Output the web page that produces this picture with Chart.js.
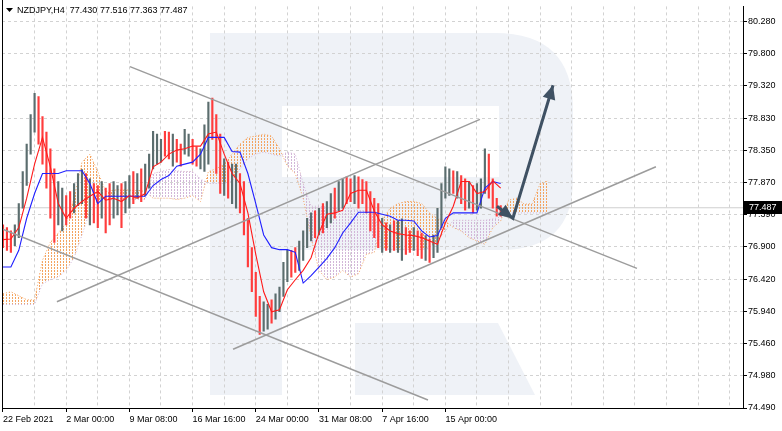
<!DOCTYPE html>
<html>
<head>
<meta charset="utf-8">
<script src="https://cdn.jsdelivr.net/npm/chart.js@4.4.0/dist/chart.umd.min.js"></script>
<style>
  html, body { margin: 0; padding: 0; background: #fff; }
  canvas { display: block; }
</style>
</head>
<body>
<canvas id="chart" width="782" height="431"></canvas>
<script>
const symbolTitle = "NZDJPY,H4  77.430 77.516 77.363 77.487";
const lastPrice = 77.487;

const yTicks = [80.28, 79.8, 79.32, 78.83, 78.35, 77.87, 77.39, 76.9, 76.42, 75.94, 75.46, 74.98, 74.49];
const xLabels = ["22 Feb 2021", "2 Mar 00:00", "9 Mar 08:00", "16 Mar 16:00", "24 Mar 00:00", "31 Mar 08:00", "7 Apr 16:00", "15 Apr 00:00"];
const barsPerLabel = 32;
const barsPerGrid = 16;

// one drawn bar for every 2 H4 bars
const barStep = 2;
const highs = [
  77.23, 77.19, 77.14, 77.23, 77.55, 78.03, 78.44, 78.88, 79.20, 79.15,
  78.85, 78.62, 78.37, 78.07, 77.88, 77.78, 77.67, 77.73, 77.85, 78.00,
  78.06, 78.00, 77.92, 77.85, 77.82, 77.88, 77.78, 77.85, 77.88, 77.82,
  77.85, 77.88, 77.97, 78.03, 78.00, 78.07, 78.14, 78.29, 78.63, 78.59,
  78.51, 78.63, 78.62, 78.59, 78.51, 78.44, 78.66, 78.59, 78.51, 78.40,
  78.37, 78.73, 79.07, 79.13, 78.88, 78.59, 78.22, 78.17, 78.14, 78.14,
  78.00, 77.88, 77.33, 76.89, 76.52, 76.16, 76.08, 76.04, 76.11, 76.20,
  76.30, 76.67, 76.85, 76.85, 76.89, 76.99, 77.14, 77.33, 77.41, 77.44,
  77.48, 77.55, 77.58, 77.70, 77.78, 77.88, 77.92, 77.95, 77.92, 77.97,
  77.95, 77.91, 77.88, 77.73, 77.63, 77.55, 77.33, 77.26, 77.23, 77.29,
  77.29, 77.32, 77.19, 77.14, 77.19, 77.14, 77.11, 77.07, 77.02, 77.08,
  77.48, 77.85, 78.10, 78.07, 78.04, 78.03, 77.97, 77.92, 77.88, 77.82,
  77.85, 77.92, 78.37, 78.29, 77.92, 77.63, 77.52
];
const lows = [
  76.89, 76.85, 76.82, 76.92, 77.04, 77.48, 77.82, 78.29, 78.62, 78.44,
  78.14, 77.78, 77.33, 76.97, 77.23, 77.14, 77.23, 77.33, 77.41, 77.52,
  77.55, 77.33, 77.23, 77.26, 77.19, 77.33, 77.11, 77.23, 77.33, 77.38,
  77.19, 77.41, 77.48, 77.55, 77.63, 77.58, 77.67, 77.78, 78.07, 78.14,
  78.17, 78.26, 78.22, 78.11, 78.17, 78.11, 78.29, 78.26, 78.14, 78.11,
  78.07, 78.03, 78.14, 78.51, 78.00, 77.70, 77.67, 77.63, 77.55, 77.48,
  77.41, 77.08, 76.60, 76.23, 75.86, 75.59, 75.64, 75.67, 75.76, 75.82,
  75.93, 76.16, 76.38, 76.45, 76.52, 76.55, 76.70, 76.89, 76.99, 77.04,
  77.08, 77.11, 77.19, 77.26, 77.33, 77.44, 77.48, 77.55, 77.58, 77.55,
  77.48, 77.55, 77.41, 77.14, 77.04, 76.89, 76.82, 76.85, 76.82, 76.85,
  76.82, 76.70, 76.79, 76.82, 76.85, 76.77, 76.73, 76.70, 76.67, 76.74,
  76.82, 77.19, 77.63, 77.67, 77.70, 77.63, 77.55, 77.45, 77.48, 77.41,
  77.45, 77.48, 77.70, 77.63, 77.48, 77.36, 77.36
];
// u = up bar, d = down bar
const barDirs = (
  "ddduuuuuud" + "dddduudduu" + "ududdudduu" + "duududuuuu" + "uddudduudd" +
  "uuuddduduu" + "dddddduudu" + "uuudduuuud" + "uduuduuddu" + "ddddddudud" +
  "uudduddudu" + "uuuududdud" + "uuudddd"
).split("");

// Ichimoku lines, one point every 4 H4 bars
const lineStep = 4;
const tenkan = [
  77.01, 77.02, 77.19, 77.63, 78.14, 78.54, 78.10, 77.55, 77.33, 77.48,
  77.58, 77.66, 77.73, 77.60, 77.63, 77.58, 77.67, 77.63, 77.70, 78.10,
  78.17, 78.29, 78.35, 78.37, 78.41, 78.41, 78.59, 78.62, 78.29, 78.00,
  77.85, 77.41, 76.79, 76.23, 75.93, 75.96, 76.26, 76.41, 76.55, 76.74,
  77.11, 77.39, 77.41, 77.45, 77.70, 77.75, 77.75, 77.44, 77.23, 77.14,
  77.10, 77.08, 77.07, 77.04, 76.99, 76.94, 77.26, 77.51, 77.88, 77.88,
  77.70, 77.73, 77.89, 77.78
];
const kijun = [
  76.60, 76.60, 76.85, 77.33, 77.70, 78.00, 78.00, 78.00, 78.04, 78.04,
  78.04, 77.85, 77.55, 77.66, 77.66, 77.66, 77.66, 77.66, 77.66, 77.82,
  77.91, 77.97, 78.11, 78.14, 78.17, 78.29, 78.54, 78.54, 78.54, 78.33,
  78.32, 78.00, 77.55, 77.08, 76.89, 76.86, 76.86, 76.82, 76.36, 76.47,
  76.60, 76.73, 76.89, 77.11, 77.26, 77.42, 77.42, 77.42, 77.39, 77.36,
  77.30, 77.30, 77.29, 77.14, 77.05, 77.07, 77.33, 77.41, 77.41, 77.41,
  77.41, 77.78, 77.88, 77.85
];
const spanA = [
  76.20, 76.23, 76.17, 76.11, 76.11, 76.70, 76.97, 77.11, 77.26, 77.63,
  78.17, 78.29, 78.03, 77.73, 77.75, 77.76, 77.75, 77.75, 77.73, 77.63,
  77.63, 77.63, 77.61, 77.63, 77.67, 77.58, 78.03, 78.07, 78.14, 78.29,
  78.44, 78.54, 78.56, 78.59, 78.56, 78.37, 78.11, 78.00, 77.63, 77.04,
  76.55, 76.41, 76.45, 76.55, 76.45, 76.50, 76.79, 76.82, 77.30, 77.48,
  77.55, 77.58, 77.58, 77.55, 77.41, 77.33, 77.29, 77.19, 77.14, 77.04,
  76.99, 76.94, 77.19, 77.29, 77.60, 77.63, 77.54, 77.55, 77.85, 77.89
];
const spanB = [
  76.04, 76.04, 76.04, 76.04, 76.04, 76.35, 76.41, 76.45, 76.55, 76.74,
  77.08, 77.44, 77.58, 77.60, 77.61, 77.61, 77.61, 77.61, 77.61, 78.00,
  78.03, 78.06, 78.04, 78.03, 78.03, 77.92, 77.85, 77.85, 77.85, 77.89,
  78.07, 78.22, 78.29, 78.32, 78.29, 78.26, 78.32, 78.29, 77.85, 77.51,
  77.51, 77.50, 77.48, 77.48, 77.48, 77.45, 77.44, 77.41, 76.89, 76.86,
  76.86, 76.86, 76.86, 76.86, 76.89, 76.99, 77.14, 77.30, 77.30, 77.30,
  77.30, 77.30, 77.32, 77.35, 77.41, 77.41, 77.41, 77.41, 77.41, 77.41
];

// channel lines drawn on the chart: [barIndex, price] pairs
const trendLines = [
  [[64.3, 79.60], [321.0, 76.58]],
  [[-0.5, 77.17], [215.2, 74.61]],
  [[116.5, 75.37], [330.6, 78.10]],
  [[27.3, 76.08], [241.5, 78.81]]
];
const forecastArrow = [[250.1, 77.51], [258.2, 77.33], [278.5, 79.32]];

const xMin = -0.5, xMax = 374.7;
const yMin = 74.49, yMax = 80.501;

const UP = "#5b6d6e";
const DOWN = "#ff3c3c";
const SANDY = "#f4a460";
const THISTLE = "#d2b6d8";
const FONT = "'Liberation Sans', Arial, sans-serif";

const canvas = document.getElementById("chart");
const mainCtx = canvas.getContext("2d");

function hatch(color) {
  const c = document.createElement("canvas");
  c.width = 3;
  c.height = 3;
  const g = c.getContext("2d");
  g.fillStyle = color;
  g.fillRect(0, 0, 1, 2);
  return mainCtx.createPattern(c, "repeat");
}

const toPoints = (arr, step) => arr.map((v, j) => ({ x: j * step, y: v }));
const pairPoints = (pairs) => pairs.map(([x, y]) => ({ x, y }));

const gridIdx = [];
for (let v = 0; v <= xMax; v += barsPerGrid) gridIdx.push(v);

const watermark = {
  id: "watermark",
  beforeDraw(chart) {
    const c = chart.ctx;
    c.save();
    c.fillStyle = "#fff";
    c.fillRect(0, 0, chart.width, chart.height);
    c.fillStyle = "#eff2f7";
    // stem
    c.fillRect(210, 33, 72, 362);
    // bowl with hole
    c.beginPath();
    c.moveTo(210, 33);
    c.lineTo(495, 33);
    c.quadraticCurveTo(573, 33, 573, 110);
    c.lineTo(573, 180);
    c.quadraticCurveTo(573, 250, 500, 250);
    c.lineTo(210, 250);
    c.closePath();
    c.rect(282, 106, 217, 71);
    c.fill("evenodd");
    // leg
    c.beginPath();
    c.moveTo(355, 323);
    c.lineTo(498, 323);
    c.lineTo(535, 395);
    c.lineTo(355, 395);
    c.closePath();
    c.fill();
    c.restore();
  }
};

const overlay = {
  id: "overlay",
  afterDatasetsDraw(chart) {
    const c = chart.ctx;
    const meta = chart.getDatasetMeta(chart.data.datasets.length - 1);
    const pts = meta.data;
    c.save();
    c.fillStyle = "#3f5163";
    [[pts[0], pts[1]], [pts[1], pts[2]]].forEach(([a, b]) => {
      const ang = Math.atan2(b.y - a.y, b.x - a.x);
      const len = 14, half = 6.5;
      c.beginPath();
      c.moveTo(b.x, b.y);
      c.lineTo(b.x - len * Math.cos(ang) + half * Math.sin(ang), b.y - len * Math.sin(ang) - half * Math.cos(ang));
      c.lineTo(b.x - len * Math.cos(ang) - half * Math.sin(ang), b.y - len * Math.sin(ang) + half * Math.cos(ang));
      c.closePath();
      c.fill();
    });
    c.restore();
  },
  afterDraw(chart) {
    const c = chart.ctx;
    const area = chart.chartArea;
    c.save();
    // left border
    c.strokeStyle = "#000";
    c.lineWidth = 1;
    c.beginPath();
    c.moveTo(area.left + 0.5, 0);
    c.lineTo(area.left + 0.5, area.bottom);
    c.stroke();
    // title
    c.fillStyle = "#000";
    c.beginPath();
    c.moveTo(6, 8);
    c.lineTo(13, 8);
    c.lineTo(9.5, 12);
    c.closePath();
    c.fill();
    c.font = "9px " + FONT;
    c.textBaseline = "middle";
    c.fillText(symbolTitle, 17, 10.5);
    // last price label
    const y = Math.round(chart.scales.y.getPixelForValue(lastPrice));
    c.fillStyle = "#000";
    c.fillRect(area.right + 1, y - 7, chart.width - area.right - 1, 13);
    c.fillStyle = "#fff";
    c.fillText(lastPrice.toFixed(3), area.right + 6, y);
    c.restore();
  }
};

const datasets = [
  {
    type: "line",
    data: [{ x: xMin, y: lastPrice }, { x: xMax, y: lastPrice }],
    borderColor: "#cfcfcf",
    borderWidth: 1,
    pointRadius: 0,
    order: 20
  },
  {
    type: "line",
    data: toPoints(spanA, lineStep),
    borderColor: SANDY,
    borderWidth: 1,
    borderDash: [1, 2],
    pointRadius: 0,
    fill: { target: "+1", above: hatch(SANDY), below: hatch(THISTLE) },
    order: 15
  },
  {
    type: "line",
    data: toPoints(spanB, lineStep),
    borderColor: THISTLE,
    borderWidth: 1,
    borderDash: [1, 2],
    pointRadius: 0,
    fill: false,
    order: 14
  },
  {
    type: "bar",
    data: highs.map((h, k) => ({ x: k * barStep, y: [lows[k], h] })),
    backgroundColor: barDirs.map((d) => (d === "u" ? UP : DOWN)),
    borderWidth: 0,
    barThickness: 1.5,
    grouped: false,
    order: 10
  },
  {
    type: "line",
    data: toPoints(kijun, lineStep),
    borderColor: "#1f1fff",
    borderWidth: 1.1,
    pointRadius: 0,
    order: 6
  },
  {
    type: "line",
    data: toPoints(tenkan, lineStep),
    borderColor: "#ff1a1a",
    borderWidth: 1.1,
    pointRadius: 0,
    order: 5
  },
  ...trendLines.map((pairs) => ({
    type: "line",
    data: pairPoints(pairs),
    borderColor: "#9c9c9c",
    borderWidth: 1.5,
    pointRadius: 0,
    order: 3
  })),
  {
    type: "line",
    data: pairPoints(forecastArrow),
    borderColor: "#3f5163",
    borderWidth: 3,
    pointRadius: 0,
    order: 1
  }
];

Chart.defaults.font.family = FONT;
Chart.defaults.font.size = 9;
Chart.defaults.color = "#000";

new Chart(canvas, {
  type: "bar",
  data: { datasets },
  plugins: [watermark, overlay],
  options: {
    responsive: false,
    animation: false,
    events: [],
    layout: { padding: { left: 2, top: 0, right: 0, bottom: 0 } },
    plugins: { legend: { display: false }, tooltip: { enabled: false } },
    scales: {
      x: {
        type: "linear",
        min: xMin,
        max: xMax,
        offset: false,
        afterBuildTicks(s) {
          s.ticks = gridIdx.map((v) => ({ value: v }));
        },
        afterFit(s) {
          s.height = 23;
          s.paddingLeft = 0;
          s.paddingRight = 0;
        },
        grid: {
          offset: false,
          color: "#d2d2d2",
          lineWidth: 1,
          tickLength: 4,
          tickColor: (c) => (c.tick && c.tick.label ? "#000" : "rgba(0,0,0,0)")
        },
        border: { display: true, color: "#000", width: 1, dash: [3, 3] },
        ticks: {
          autoSkip: false,
          maxRotation: 0,
          align: "start",
          padding: 2,
          callback: (v) => {
            const n = v / barsPerLabel;
            return Number.isInteger(n) && n < xLabels.length ? xLabels[n] : "";
          }
        }
      },
      y: {
        position: "right",
        min: yMin,
        max: yMax,
        afterBuildTicks(s) {
          s.ticks = yTicks.map((v) => ({ value: v }));
        },
        afterFit(s) {
          s.width = 39;
        },
        grid: {
          color: "#d2d2d2",
          lineWidth: 1,
          tickLength: 4,
          tickColor: "#000"
        },
        border: { display: true, color: "#000", width: 1, dash: [3, 3] },
        ticks: {
          autoSkip: false,
          padding: 1,
          callback: (v) => v.toFixed(3)
        }
      }
    }
  }
});
</script>
</body>
</html>
